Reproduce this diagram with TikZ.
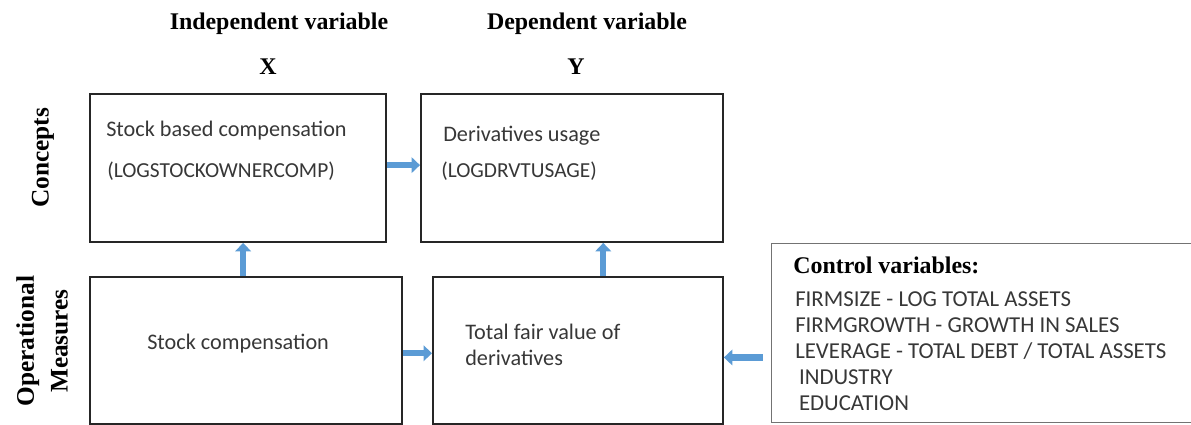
\documentclass[tikz,border=0pt]{standalone}
\usepackage{fontspec}
\setmainfont{Carlito}
\newfontfamily\headfont{Liberation Serif}
\usetikzlibrary{positioning, arrows.meta}
\definecolor{arrowBlue}{RGB}{91,155,213}
\definecolor{arrowEdge}{RGB}{65,113,156}
\definecolor{boxText}{RGB}{55,55,55}
\tikzstyle{normalBox} = [shape=rectangle, draw=black!85, line width=1.3pt,
	anchor=north west, inner sep=0pt]
\tikzstyle{boxText} = [anchor=west, inner sep=0pt, text=boxText, font=\fontsize{15.8}{18}\selectfont]
\tikzstyle{headText} = [inner sep=0pt, text=black, font=\headfont\bfseries\fontsize{17}{18}\selectfont]
\tikzstyle{blockArrow} = [line width=4.5pt, draw=arrowBlue,
	-{Triangle[width=11pt,length=6pt]}]

\begin{document}
\begin{tikzpicture}[x=0.025cm, y=-0.025cm]
  \useasboundingbox (0,0) rectangle (1191,424);
  % header row
  \node (indep) at (279,24) [headText] {Independent variable};
  \node (depend) at (587,24) [headText] {Dependent variable};
  \node (varX) at (268,67) [headText] {X};
  \node (varY) at (576,67) [headText] {Y};
  \node (concepts) at (43,158) [headText, rotate=90, font=\headfont\bfseries\fontsize{18}{18}\selectfont] {Concepts};
  \node (opMeasures) at (42,341) [headText, rotate=90, align=center, font=\headfont\bfseries\fontsize{18}{24}\selectfont] {Operational\\Measures};

  % concept boxes
  \node (rect) at (89,93) [normalBox, minimum width=7.4cm, minimum height=3.7cm] {};
  \node (textA) at (106,131) [boxText] {Stock based compensation};
  \node (textB) at (107,171) [boxText, font=\fontsize{15.2}{18}\selectfont] {(LOGSTOCKOWNERCOMP)};

  \node (rect2) at (420,93) [normalBox, minimum width=7.55cm, minimum height=3.7cm] {};
  \node (textC) at (443,136) [boxText] {Derivatives usage};
  \node (textD) at (441,171) [boxText, font=\fontsize{15.2}{18}\selectfont] {(LOGDRVTUSAGE)};

  % operational boxes
  \node (rect3) at (89,276) [normalBox, minimum width=7.8cm, minimum height=3.675cm] {};
  \node (textE) at (147,344) [boxText] {Stock compensation};

  \node (rect4) at (432,276) [normalBox, minimum width=7.25cm, minimum height=3.675cm] {};
  \node (textF) at (465,345) [boxText, align=left, font=\fontsize{15.8}{18.5}\selectfont] {Total fair value of\\derivatives};

  \node (ctrl) at (771,243) [normalBox, draw=black!55, line width=0.8pt, minimum width=10.5cm, minimum height=4.475cm] {};
  \node (ctrlHead) at (793,265) [headText, anchor=west] {Control variables:};
  \node (ctrlList) at (795,351) [boxText, align=left, font=\fontsize{16.2}{18.6}\selectfont] {FIRMSIZE - LOG TOTAL ASSETS\\FIRMGROWTH - GROWTH IN SALES\\LEVERAGE - TOTAL DEBT / TOTAL ASSETS\\\,INDUSTRY\\\,EDUCATION};

  \draw [blockArrow] ([yshift=2pt]rect.east) -- ([yshift=2pt]rect.east -| rect2.west);
  \draw [blockArrow] ([xshift=-2pt]rect3.north) -- ([xshift=-2pt]rect3.north |- rect.south);
  \draw [blockArrow] ([xshift=18pt]rect4.north) -- ([xshift=18pt]rect4.north |- rect2.south);
  \draw [blockArrow] ([yshift=-2pt]rect3.east) -- ([yshift=-2pt]rect3.east -| rect4.west);
  \draw [blockArrow, shorten <=6pt] ([yshift=-5pt]rect4.east -| ctrl.west) -- ([yshift=-5pt]rect4.east);
\end{tikzpicture}
\end{document}
